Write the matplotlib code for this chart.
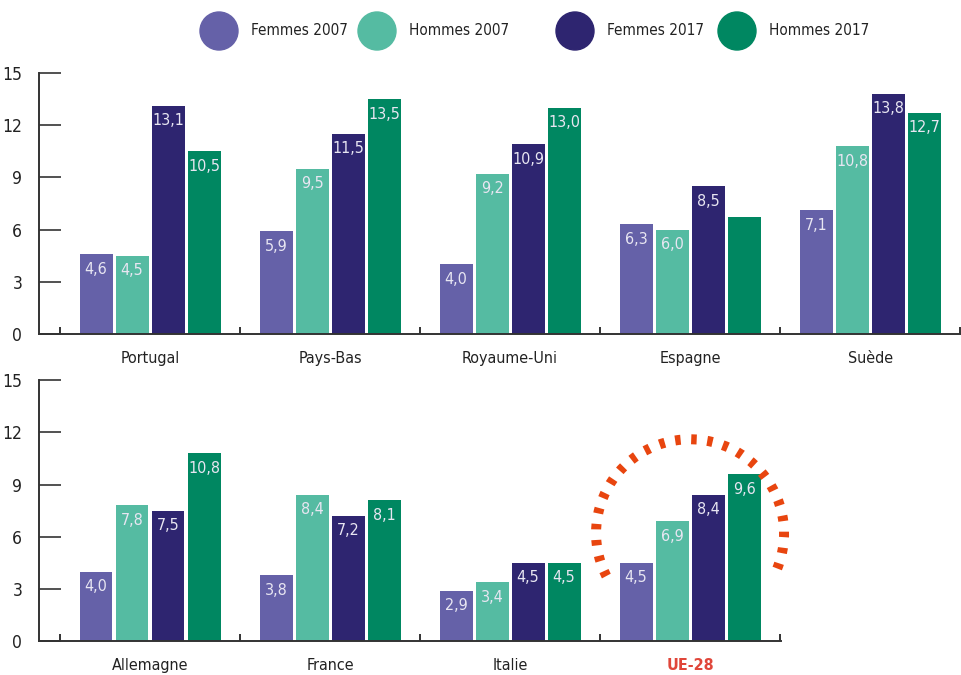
import numpy as np
import matplotlib.pyplot as plt
from matplotlib.patches import Arc, Ellipse

# police étroite (DejaVu Sans Condensed)
plt.rcParams['font.family'] = ['DejaVu Sans']
plt.rcParams['font.stretch'] = 'condensed'

# Données
series = ['Femmes 2007', 'Hommes 2007', 'Femmes 2017', 'Hommes 2017']
colors = ['#6561A8', '#55BBA2', '#2E2570', '#008761']

pays_haut = ['Portugal', 'Pays-Bas', 'Royaume-Uni', 'Espagne', 'Suède']
femmes_2007_haut = [4.6, 5.9, 4.0, 6.3, 7.1]
hommes_2007_haut = [4.5, 9.5, 9.2, 6.0, 10.8]
femmes_2017_haut = [13.1, 11.5, 10.9, 8.5, 13.8]
hommes_2017_haut = [10.5, 13.5, 13.0, 6.7, 12.7]

pays_bas = ['Allemagne', 'France', 'Italie', 'UE-28']
femmes_2007_bas = [4.0, 3.8, 2.9, 4.5]
hommes_2007_bas = [7.8, 8.4, 3.4, 6.9]
femmes_2017_bas = [7.5, 7.2, 4.5, 8.4]
hommes_2017_bas = [10.8, 8.1, 4.5, 9.6]

# L'Espagne (Hommes 2017) n'a pas d'étiquette dans l'original
sans_etiquette = [('Espagne', 'Hommes 2017')]

yticks = [0, 3, 6, 9, 12, 15]
label_color = '#E8E6F2'
axis_color = '#333333'
red = '#E8450F'

fig = plt.figure(figsize=(9.62, 6.75), dpi=100)


def panel(rect, pays, valeurs, xmax):
    ax = fig.add_axes(rect)
    x = np.arange(len(pays))
    for i, (vals, c, name) in enumerate(zip(valeurs, colors, series)):
        pos = x + (i - 1.5) * 0.2
        ax.bar(pos, vals, width=0.183, color=c)
        for p, v, country in zip(pos, vals, pays):
            if (country, name) in sans_etiquette:
                continue
            ax.annotate(f'{v:.1f}'.replace('.', ','), (p, v), xytext=(0, -15),
                        textcoords='offset pixels', ha='center', va='center',
                        color=label_color, fontsize=11.5)
    ax.set_xlim(-0.617, xmax)
    ax.set_ylim(0, 15)
    ax.set_yticks(yticks)
    ax.set_xticks(x)
    ax.set_xticklabels(pays)
    ax.set_xticks(np.arange(len(pays) + 1) - 0.5, minor=True)
    for s in ['top', 'right']:
        ax.spines[s].set_visible(False)
    for s in ['left', 'bottom']:
        ax.spines[s].set_color(axis_color)
        ax.spines[s].set_linewidth(1.4)
    ax.tick_params(axis='y', direction='in', length=16, width=1.2,
                   color=axis_color, pad=12, labelsize=12.5, labelcolor='#222222')
    ax.tick_params(axis='x', which='major', length=0, pad=12, labelsize=11.5,
                   labelcolor='#222222')
    ax.tick_params(axis='x', which='minor', direction='in', length=5, width=1.4,
                   color=axis_color)
    return ax


ax1 = panel([0.0405, 0.505, 0.9595, 0.387],
            pays_haut,
            [femmes_2007_haut, hommes_2007_haut, femmes_2017_haut, hommes_2017_haut],
            4.51)
ax2 = panel([0.0405, 0.050, 0.7715, 0.387],
            pays_bas,
            [femmes_2007_bas, hommes_2007_bas, femmes_2017_bas, hommes_2017_bas],
            3.506)

ue = ax2.get_xticklabels()[-1]
ue.set_color('#E0463A')
ue.set_fontweight('bold')

# Cercle pointillé autour de l'UE-28
cx, cy = ax2.transData.transform((pays_bas.index('UE-28'), 6.2))
arc = Arc((cx / fig.dpi, cy / fig.dpi), 1.88, 1.88, theta1=-22, theta2=212,
          transform=fig.dpi_scale_trans, color=red, lw=7.2,
          linestyle=(0, (0.55, 1.06)), capstyle='butt')
fig.add_artist(arc)

# Légende
leg_x = [2.19, 3.77, 5.75, 7.37]
leg_y = 6.75 - 0.31
for xx, c, name in zip(leg_x, colors, series):
    fig.add_artist(Ellipse((xx, leg_y), 0.38, 0.38, color=c,
                           transform=fig.dpi_scale_trans))
    fig.text((xx + 0.32) / 9.62, leg_y / 6.75, name, ha='left', va='center',
             fontsize=11, color='#222222')

fig.savefig('out.png', dpi=100)
